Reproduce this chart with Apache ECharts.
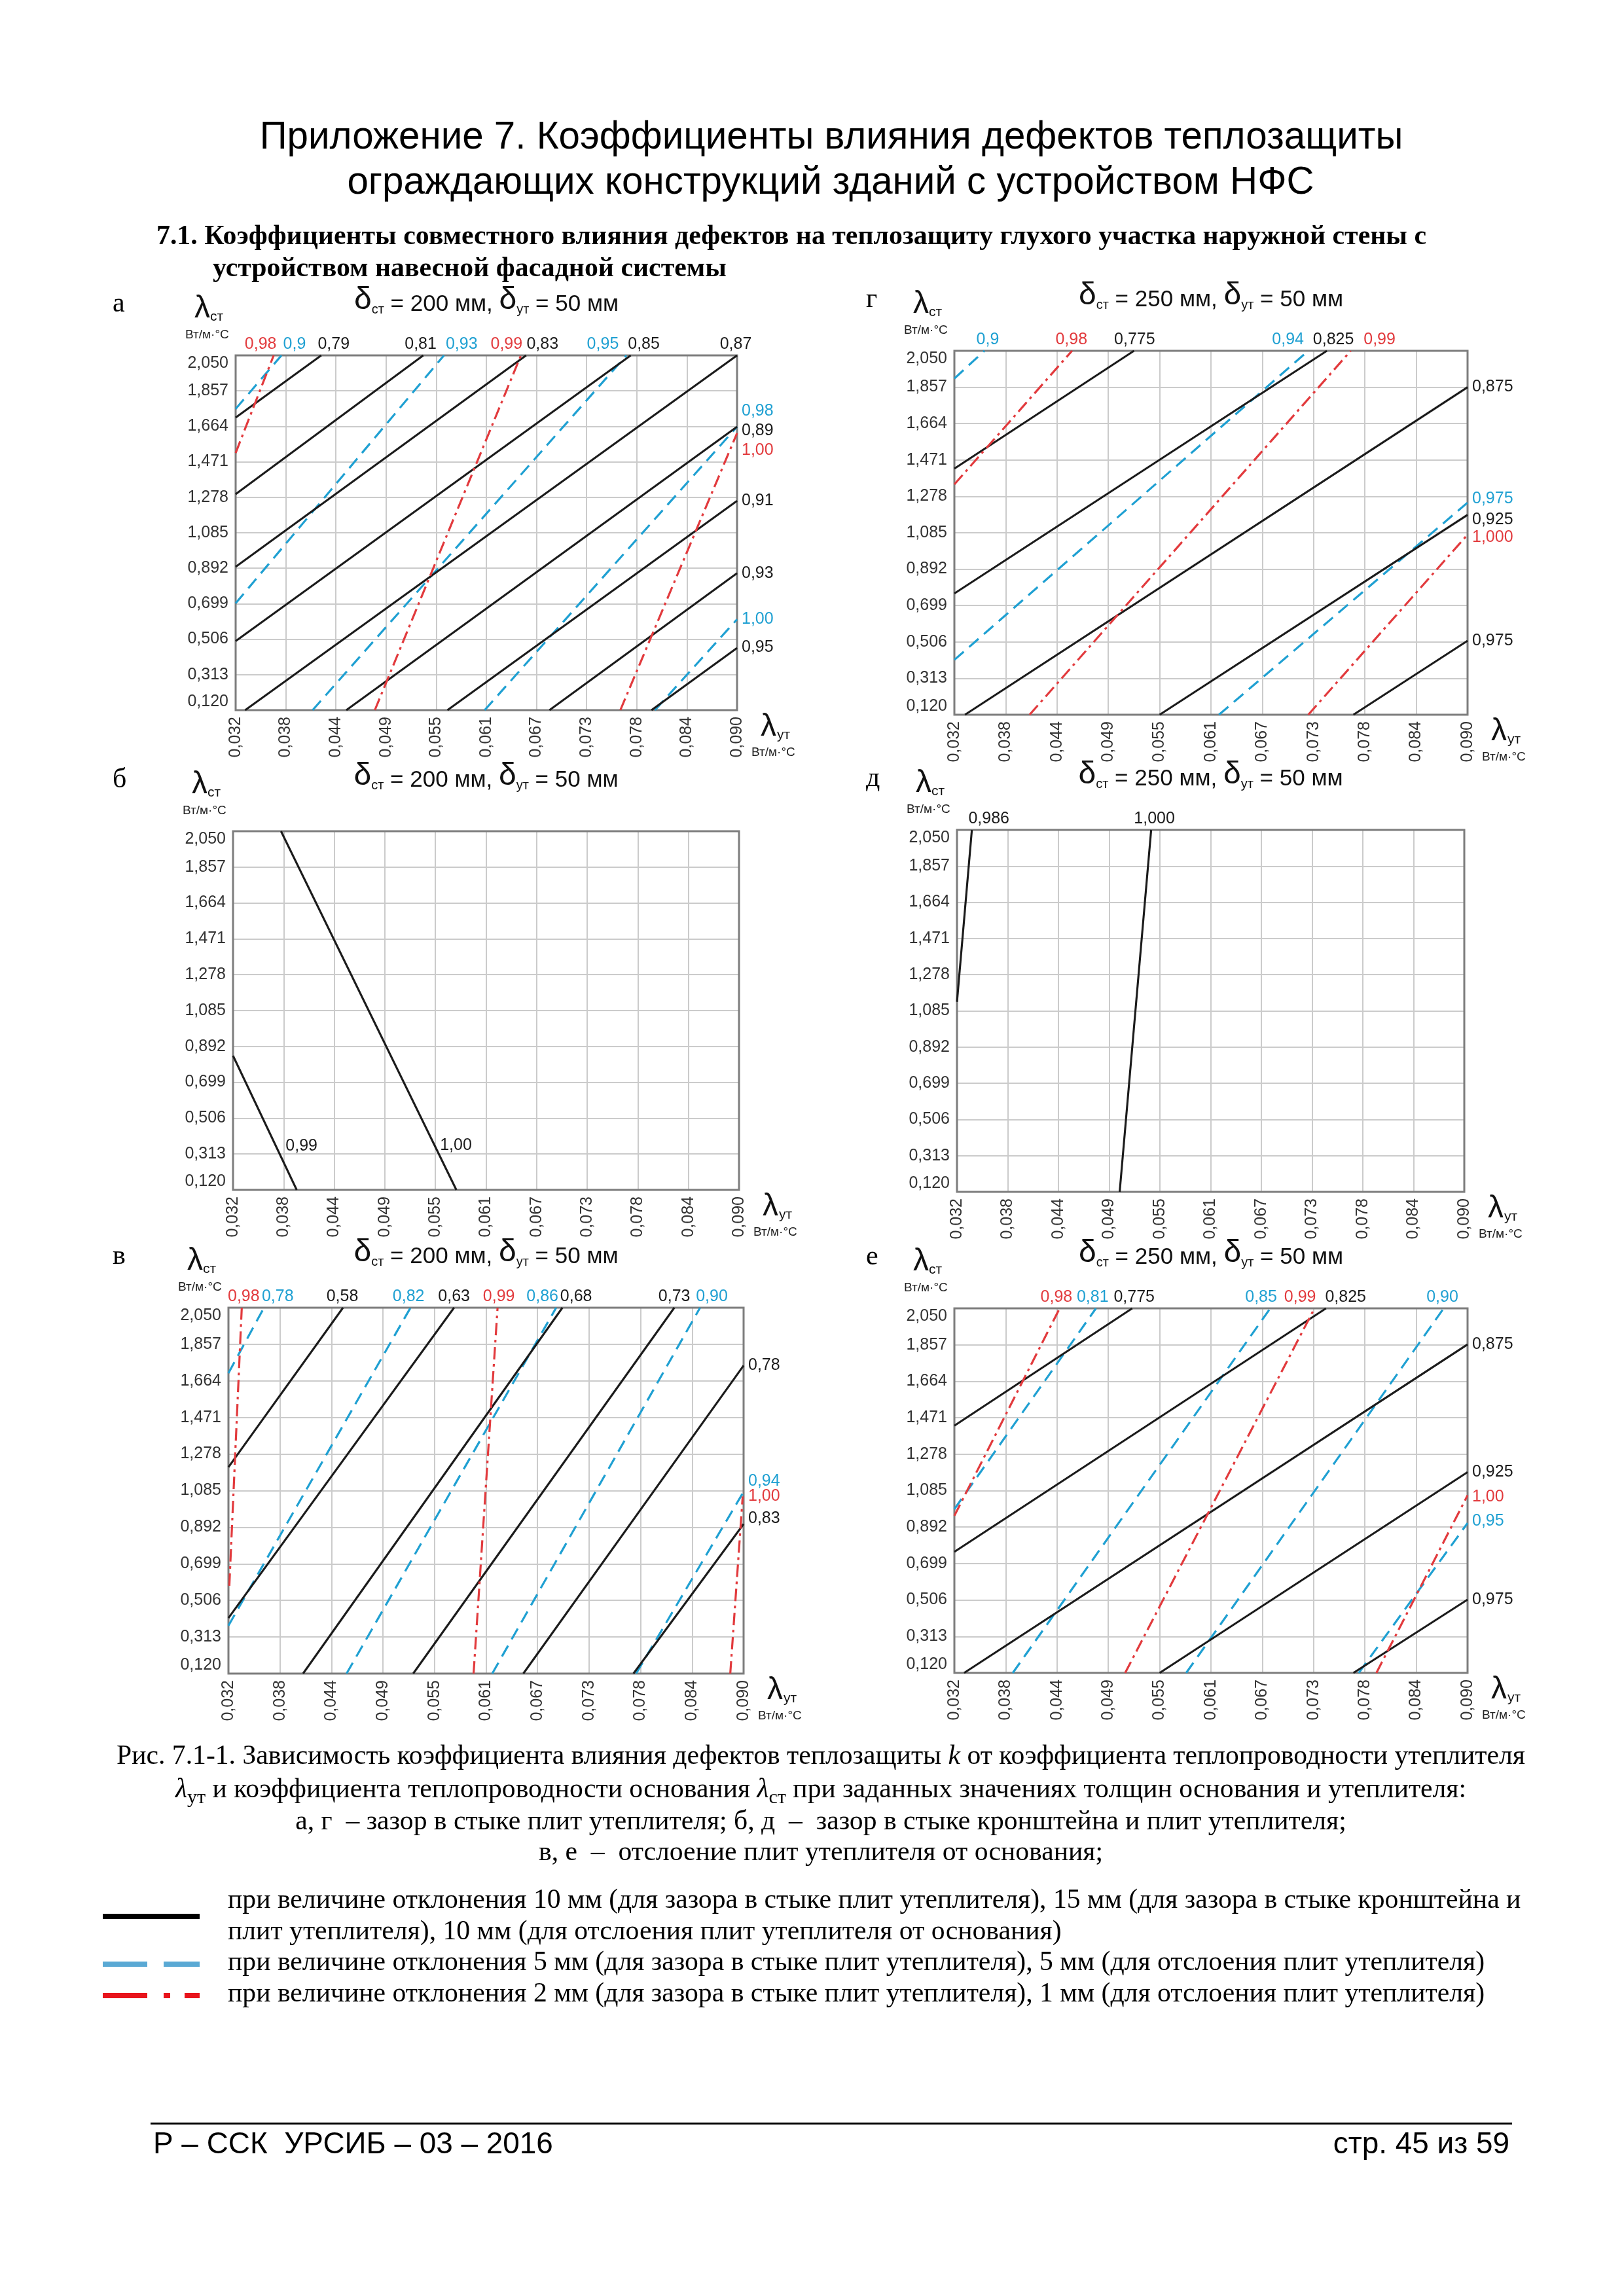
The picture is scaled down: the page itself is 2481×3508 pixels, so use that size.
<!DOCTYPE html>
<html><head><meta charset="utf-8">
<script src="https://cdn.jsdelivr.net/npm/echarts@6/dist/echarts.min.js"></script>
<style>html,body{margin:0;padding:0;background:#fff}#c{width:2481px;height:3508px}</style>
</head><body><div id="c"></div>
<script>
// ---------- tick labels (axes are linear: equal steps between ticks) ----------
const xTickLabels = ['0,032','0,038','0,044','0,049','0,055','0,061','0,067','0,073','0,078','0,084','0,090'];
const yTickLabels = ['0,120','0,313','0,506','0,699','0,892','1,085','1,278','1,471','1,664','1,857','2,050'];
const xRange = [0.032, 0.090];   // λут, Вт/м·°С
const yRange = [0.120, 2.050];   // λст, Вт/м·°С

// ---------- isolines k : endpoints [λут, λст] ----------
// а : δст = 200 мм, δут = 50 мм (зазор в стыке плит утеплителя)
const aSolid = [
  {k:'0,79', p:[[0.0320,1.712],[0.0419,2.050]]},
  {k:'0,81', p:[[0.0320,1.295],[0.0537,2.050]]},
  {k:'0,83', p:[[0.0320,0.900],[0.0656,2.050]]},
  {k:'0,85', p:[[0.0320,0.496],[0.0777,2.050]]},
  {k:'0,87', p:[[0.0331,0.120],[0.0900,2.050]]},
  {k:'0,89', p:[[0.0448,0.120],[0.0900,1.662]]},
  {k:'0,91', p:[[0.0565,0.120],[0.0900,1.259]]},
  {k:'0,93', p:[[0.0683,0.120],[0.0900,0.865]]},
  {k:'0,95', p:[[0.0801,0.120],[0.0900,0.458]]}
];
const aDash = [
  {k:'0,9',  p:[[0.0320,1.759],[0.0373,2.050]]},
  {k:'0,93', p:[[0.0320,0.701],[0.0561,2.050]]},
  {k:'0,95', p:[[0.0409,0.120],[0.0772,2.050]]},
  {k:'0,98', p:[[0.0608,0.120],[0.0900,1.662]]},
  {k:'1,00', p:[[0.0805,0.120],[0.0900,0.614]]}
];
const aDashDot = [
  {k:'0,98', p:[[0.0320,1.519],[0.0364,2.050]]},
  {k:'0,99', p:[[0.0481,0.120],[0.0650,2.050]]},
  {k:'1,00', p:[[0.0765,0.120],[0.0900,1.627]]}
];
// г : δст = 250 мм, δут = 50 мм
const gSolid = [
  {k:'0,775', p:[[0.0320,1.425],[0.0523,2.050]]},
  {k:'0,825', p:[[0.0320,0.763],[0.0741,2.050]]},
  {k:'0,875', p:[[0.0332,0.120],[0.0900,1.857]]},
  {k:'0,925', p:[[0.0552,0.120],[0.0900,1.180]]},
  {k:'0,975', p:[[0.0771,0.120],[0.0900,0.512]]}
];
const gDash = [
  {k:'0,9',   p:[[0.0320,1.903],[0.0354,2.050]]},
  {k:'0,94',  p:[[0.0320,0.411],[0.0720,2.050]]},
  {k:'0,975', p:[[0.0619,0.120],[0.0900,1.245]]}
];
const gDashDot = [
  {k:'0,98',  p:[[0.0320,1.342],[0.0453,2.050]]},
  {k:'0,99',  p:[[0.0405,0.120],[0.0768,2.050]]},
  {k:'1,000', p:[[0.0720,0.120],[0.0900,1.075]]}
];
// б : δст = 200 мм, δут = 50 мм (зазор в стыке кронштейна и плит утеплителя)
const bSolid = [
  {k:'0,99', p:[[0.0320,0.842],[0.0393,0.120]]},
  {k:'1,00', p:[[0.0375,2.050],[0.0576,0.120]]}
];
// д : δст = 250 мм, δут = 50 мм
const dSolid = [
  {k:'0,986', p:[[0.0320,1.133],[0.0337,2.050]]},
  {k:'1,000', p:[[0.0506,0.120],[0.0542,2.050]]}
];
// в : δст = 200 мм, δут = 50 мм (отслоение плит утеплителя от основания)
const vSolid = [
  {k:'0,58', p:[[0.0320,1.209],[0.0449,2.050]]},
  {k:'0,63', p:[[0.0320,0.413],[0.0574,2.050]]},
  {k:'0,68', p:[[0.0404,0.120],[0.0696,2.050]]},
  {k:'0,73', p:[[0.0528,0.120],[0.0822,2.050]]},
  {k:'0,78', p:[[0.0652,0.120],[0.0900,1.745]]},
  {k:'0,83', p:[[0.0776,0.120],[0.0900,0.909]]}
];
const vDash = [
  {k:'0,78', p:[[0.0320,1.705],[0.0360,2.050]]},
  {k:'0,82', p:[[0.0320,0.373],[0.0525,2.050]]},
  {k:'0,86', p:[[0.0453,0.120],[0.0689,2.050]]},
  {k:'0,90', p:[[0.0617,0.120],[0.0851,2.050]]},
  {k:'0,94', p:[[0.0779,0.120],[0.0900,1.079]]}
];
const vDashDot = [
  {k:'0,98', p:[[0.0321,0.583],[0.0335,2.050]]},
  {k:'0,99', p:[[0.0596,0.120],[0.0623,2.050]]},
  {k:'1,00', p:[[0.0885,0.120],[0.0899,1.054]]}
];
// е : δст = 250 мм, δут = 50 мм
const eSolid = [
  {k:'0,775', p:[[0.0320,1.429],[0.0521,2.050]]},
  {k:'0,825', p:[[0.0320,0.761],[0.0740,2.050]]},
  {k:'0,875', p:[[0.0331,0.120],[0.0900,1.859]]},
  {k:'0,925', p:[[0.0552,0.120],[0.0900,1.183]]},
  {k:'0,975', p:[[0.0771,0.120],[0.0900,0.508]]}
];
const eDash = [
  {k:'0,81', p:[[0.0320,0.987],[0.0480,2.050]]},
  {k:'0,85', p:[[0.0386,0.120],[0.0677,2.050]]},
  {k:'0,90', p:[[0.0582,0.120],[0.0873,2.050]]},
  {k:'0,95', p:[[0.0777,0.120],[0.0900,0.913]]}
];
const eDashDot = [
  {k:'0,98', p:[[0.0320,0.952],[0.0439,2.050]]},
  {k:'0,99', p:[[0.0513,0.120],[0.0727,2.050]]},
  {k:'1,00', p:[[0.0797,0.120],[0.0900,1.060]]}
];

// ---------- texts ----------
const headline = ['Приложение 7. Коэффициенты влияния дефектов теплозащиты',
                  'ограждающих конструкций зданий с устройством НФС'];
const sectionTitle = ['7.1. Коэффициенты совместного влияния дефектов на теплозащиту глухого участка наружной стены с',
                      'устройством навесной фасадной системы'];
const captionLines = [
  'Рис. 7.1-1. Зависимость коэффициента влияния дефектов теплозащиты {i|k} от коэффициента теплопроводности утеплителя',
  '{i|λ}{s|ут} и коэффициента теплопроводности основания {i|λ}{s|ст} при заданных значениях толщин основания и утеплителя:',
  'а, г  – зазор в стыке плит утеплителя; б, д  –  зазор в стыке кронштейна и плит утеплителя;',
  'в, е  –  отслоение плит утеплителя от основания;'
];
const legendLines = [
  'при величине отклонения 10 мм (для зазора в стыке плит утеплителя), 15 мм (для зазора в стыке кронштейна и',
  'плит утеплителя), 10 мм (для отслоения плит утеплителя от основания)',
  'при величине отклонения 5 мм (для зазора в стыке плит утеплителя), 5 мм (для отслоения плит утеплителя)',
  'при величине отклонения 2 мм (для зазора в стыке плит утеплителя), 1 мм (для отслоения плит утеплителя)'
];
const footerLeft = 'Р – ССК  УРСИБ – 03 – 2016';
const footerRight = 'стр. 45 из 59';

// ---------- layout / style ----------
const SANS = "'Liberation Sans', Arial, sans-serif";
const SERIF = "'Liberation Serif', 'Times New Roman', serif";
const STY = {
  solid:   {color:'#1b1b1b', width:3.1, type:'solid',       text:'#1b1b1b', z:4},
  dash:    {color:'#1fa0d2', width:3.2, type:[19,11],       text:'#1fa0d2', z:3},
  dashdot: {color:'#e23a3d', width:3.2, type:[19,7,4,7],    text:'#e23a3d', z:5}
};
const panels = [
  {letter:'а', box:{l:360,t:543,r:1126,b:1085},  th:['200','50'], lines:{solid:aSolid, dash:aDash, dashdot:aDashDot},
   shift:{solid:[19,-4,25,20,-2,6,0,0,-1], dash:[20,27,-36,-24,0], dashdot:[-20,-22,26]}},
  {letter:'г', box:{l:1458,t:536,r:2242,b:1092}, th:['250','50'], lines:{solid:gSolid, dash:gDash, dashdot:gDashDot},
   shift:{solid:[1,10,0,7,0], dash:[5,-31,-6], dashdot:[-1,44,4]}},
  {letter:'б', box:{l:356,t:1270,r:1129,b:1818}, th:['200','50'], lines:{solid:bSolid}, inline:true,
   shift:{solid:[[-17,-67],[-25,-68]]}},
  {letter:'д', box:{l:1462,t:1268,r:2237,b:1821},th:['250','50'], lines:{solid:dSolid},
   shift:{solid:[26,5]}},
  {letter:'в', box:{l:349,t:1998,r:1136,b:2557}, th:['200','50'], lines:{solid:vSolid, dash:vDash, dashdot:vDashDot},
   shift:{solid:[-1,0,21,0,0,-8], dash:[21,-3,-21,18,-16], dashdot:[3,2,0]}},
  {letter:'е', box:{l:1458,t:1999,r:2242,b:2556},th:['250','50'], lines:{solid:eSolid, dash:eDash, dashdot:eDashDot},
   shift:{solid:[3,30,0,0,0], dash:[-5,-14,-2,-3], dashdot:[-5,-22,2]}}
];

// map physical values onto the 10-step grid of the axes
const NX = xTickLabels.length - 1, NY = yTickLabels.length - 1;
const toGrid = ([lx, ly]) => [(lx - xRange[0]) / (xRange[1] - xRange[0]) * NX,
                              (ly - yRange[0]) / (yRange[1] - yRange[0]) * NY];

const chart = echarts.init(document.getElementById('c'), null, {renderer:'canvas', width:2481, height:3508});
const option = {animation:false, backgroundColor:'#ffffff', grid:[], xAxis:[], yAxis:[], series:[]};

panels.forEach((P, i) => {
  const B = P.box;
  option.grid.push({left:B.l, top:B.t, width:B.r - B.l, height:B.b - B.t, show:false});
  option.xAxis.push({gridIndex:i, type:'value', min:0, max:NX, interval:1,
    axisLine:{show:false}, axisTick:{show:false},
    splitLine:{show:true, showMinLine:false, showMaxLine:false, lineStyle:{color:'#cbcbcb', width:2}},
    axisLabel:{formatter:v => xTickLabels[Math.round(v)], rotate:90, margin:10, fontSize:25, color:'#333', fontFamily:SANS}});
  option.yAxis.push({gridIndex:i, type:'value', min:0, max:NY, interval:1,
    axisLine:{show:false}, axisTick:{show:false},
    splitLine:{show:true, showMinLine:false, showMaxLine:false, lineStyle:{color:'#cbcbcb', width:2}},
    axisLabel:{formatter:v => yTickLabels[Math.round(v)], margin:11, fontSize:25, color:'#333', fontFamily:SANS,
               verticalAlignMaxLabel:'top', verticalAlignMinLabel:'bottom'}});
  Object.keys(P.lines).forEach(kind => {
    const s = STY[kind];
    P.lines[kind].forEach(ln => {
      option.series.push({type:'line', xAxisIndex:i, yAxisIndex:i, data:ln.p.map(toGrid),
        symbol:'none', silent:true, clip:false, z:s.z,
        lineStyle:{color:s.color, width:s.width, type:s.type, cap:'butt'}});
    });
  });
});
chart.setOption(option);

// ---------- decorations and labels ----------
const mctx = document.createElement('canvas').getContext('2d');
function fit(text, family, weight, target) {
  mctx.font = (weight ? weight + ' ' : '') + '100px ' + family;
  return 100 * target / mctx.measureText(text).width;
}
const plain = s => s.replace(/\{\w+\|([^}]*)\}/g, '$1');
const G = [];
function T(x, y, text, size, family, opt) {
  opt = opt || {};
  G.push({type:'text', x, y, silent:true, z:opt.z || 20,
    style:{text, fontSize:size, fontFamily:family, fontWeight:opt.weight || 'normal', fill:opt.fill || '#000',
           align:opt.align || 'left', verticalAlign:opt.va || 'middle', rich:opt.rich}});
}
function R(x, y, w, h, fill) { G.push({type:'rect', silent:true, z:20, shape:{x, y, width:w, height:h}, style:{fill}}); }

panels.forEach((P, i) => {
  const B = P.box, cx = (B.l + B.r) / 2;
  // plot frame
  G.push({type:'rect', silent:true, z:1, shape:{x:B.l, y:B.t, width:B.r - B.l, height:B.b - B.t},
          style:{fill:null, stroke:'#7d7d7d', lineWidth:3}});
  // panel letter
  T(B.l < 1000 ? 172 : 1323, B.t - 78, P.letter, 42, SERIF);
  // axis names
  T(B.l - 63, B.t - 71, 'λ', 48, SANS, {fill:'#111'});
  T(B.l - 39, B.t - 59, 'ст', 21, SANS, {fill:'#111'});
  T(B.l - 77, B.t - 31, 'Вт/м·°С', 19, SANS, {fill:'#222'});
  T(B.r + 36, B.b + 26, 'λ', 48, SANS, {fill:'#111'});
  T(B.r + 61, B.b + 38, 'ут', 21, SANS, {fill:'#111'});
  T(B.r + 22, B.b + 65, 'Вт/м·°С', 19, SANS, {fill:'#222'});
  // panel title
  T(cx, B.t - 60, `{d|δ}{s|ст}{t| = ${P.th[0]} мм, }{d|δ}{s|ут}{t| = ${P.th[1]} мм}`, 35, SANS,
    {align:'center', va:'bottom', fill:'#111', rich:{
      d:{fontSize:48, fontFamily:SANS, fill:'#111', verticalAlign:'bottom'},
      s:{fontSize:20, fontFamily:SANS, fill:'#111', verticalAlign:'bottom'},
      t:{fontSize:35, fontFamily:SANS, fill:'#111', verticalAlign:'bottom'}}});
  // isoline labels
  Object.keys(P.lines).forEach(kind => {
    const s = STY[kind], sh = P.shift[kind];
    P.lines[kind].forEach((ln, j) => {
      const g0 = toGrid(ln.p[0]), g1 = toGrid(ln.p[1]);
      if (P.inline) {
        const lo = g0[1] < g1[1] ? g0 : g1;
        const px = chart.convertToPixel({gridIndex:i}, lo);
        T(px[0] + sh[j][0], px[1] + sh[j][1], ln.k, 25, SANS, {fill:s.text});
      } else {
        const hi = g0[1] > g1[1] ? g0 : g1;
        const px = chart.convertToPixel({gridIndex:i}, hi);
        if (hi[1] >= NY - 0.05) T(px[0] + sh[j], B.t - 17, ln.k, 25, SANS, {fill:s.text, align:'center'});
        else T(B.r + 7, px[1] + sh[j], ln.k, 25, SANS, {fill:s.text});
      }
    });
  });
});

// page headline
const hSize = fit(headline[0], SANS, '', 1747);
T(1270, 211, headline[0], hSize, SANS, {align:'center'});
T(1269, 280, headline[1], hSize, SANS, {align:'center'});
// section title
const sSize = fit(sectionTitle[0], SERIF, 'bold', 1941);
T(239, 362, sectionTitle[0], sSize, SERIF, {weight:'bold'});
T(325, 411, sectionTitle[1], sSize, SERIF, {weight:'bold'});
// caption
const cSize = fit(plain(captionLines[0]), SERIF, '', 2155);
const capRich = {i:{fontStyle:'italic', fontSize:cSize, fontFamily:SERIF, fill:'#000'},
                 s:{fontSize:cSize * 0.72, fontFamily:SERIF, fill:'#000', verticalAlign:'bottom', padding:[0,0,-6,0]}};
[2684, 2735, 2784, 2831].forEach((y, n) => T(1254, y, captionLines[n], cSize, SERIF, {align:'center', rich:capRich}));
// legend
const lSize = fit(legendLines[0], SERIF, '', 1976);
[2904, 2952, 2999, 3047].forEach((y, n) => T(348, y, legendLines[n], lSize, SERIF));
R(157, 2924, 148, 8, '#000');
R(157, 2997, 68, 8, '#5aa9d4'); R(250, 2997, 55, 8, '#5aa9d4');
R(157, 3045, 68, 8, '#e8141c'); R(250, 3045, 10, 8, '#e8141c'); R(282, 3045, 23, 8, '#e8141c');
// footer
R(230, 3243, 2080, 3, '#000');
const fSize = fit(footerLeft, SANS, '', 611);
T(234, 3277, footerLeft, fSize, SANS);
T(2306, 3277, footerRight, fSize, SANS, {align:'right'});

chart.setOption({graphic:{elements:G}});
</script>
</body></html>
